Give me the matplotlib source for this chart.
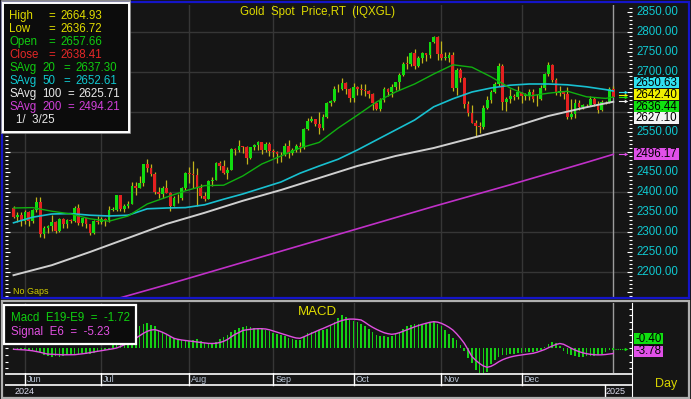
#!/usr/bin/env python3
"""Gold spot daily candles with moving averages and a MACD pane, dark terminal look."""

import matplotlib
matplotlib.use("Agg")
import matplotlib.pyplot as plt
import numpy as np
import pandas as pd
from matplotlib.patches import Rectangle
from matplotlib.ticker import MultipleLocator
from matplotlib.transforms import blended_transform_factory

plt.rcParams["font.family"] = ["Liberation Sans", "DejaVu Sans"]

W, H = 691, 399
BG = "#151515"
GRID = "#363636"
UP = "#10dc10"
DOWN = "#e42020"
WICK = "#c2b41c"
YELLOW = "#e0dc00"
CYAN = "#10c8d0"
MAGENTA = "#d040d8"

# ---------------------------------------------------------------- data
dates = pd.bdate_range("2024-05-29", "2025-01-03")

open_ = [
    2361, 2338, 2343,
    2327, 2350, 2327, 2355, 2375, 2294, 2311, 2316, 2325, 2303, 2333, 2319, 2329, 2328, 2360, 2322, 2334, 2319, 2298, 2327,
    2326, 2332, 2330, 2356, 2356, 2392, 2358, 2364, 2371, 2415, 2411, 2422, 2469, 2459, 2445, 2400, 2396, 2409, 2398, 2365, 2386, 2384, 2410,
    2447, 2446, 2443, 2410, 2390, 2383, 2427, 2431, 2472, 2465, 2447, 2456, 2507, 2504, 2514, 2512, 2484, 2512, 2518, 2524, 2504, 2521,
    2503, 2500, 2494, 2495, 2516, 2497, 2506, 2516, 2512, 2558, 2578, 2582, 2570, 2559, 2587, 2622, 2628, 2657, 2657, 2672, 2658,
    2634, 2662, 2657, 2656, 2653, 2644, 2622, 2608, 2630, 2657, 2649, 2663, 2674, 2693, 2721, 2720, 2748, 2716, 2736, 2747, 2743, 2774, 2788,
    2744, 2736, 2736, 2742, 2659, 2706, 2685, 2619, 2598, 2573, 2566, 2562, 2611, 2631, 2651, 2670, 2715, 2625, 2633, 2639, 2638,
    2650, 2640, 2643, 2650, 2632, 2633, 2660, 2694, 2718, 2681, 2648, 2652, 2646, 2587, 2595, 2622, 2612, 2618, 2617, 2633, 2621, 2606,
    2625, 2624, 2657.66,
]
high = [
    2364, 2351, 2349,
    2354, 2352, 2358, 2388, 2387, 2316, 2318, 2342, 2327, 2336, 2334, 2332, 2332, 2365, 2369, 2336, 2335, 2321, 2331, 2340,
    2338, 2335, 2365, 2363, 2392, 2393, 2370, 2378, 2424, 2424, 2440, 2469, 2483, 2469, 2449, 2412, 2415, 2431, 2401, 2390, 2395, 2413, 2451,
    2462, 2477, 2460, 2420, 2401, 2431, 2437, 2474, 2477, 2479, 2463, 2509, 2510, 2531, 2516, 2514, 2512, 2520, 2528, 2525, 2526, 2524,
    2507, 2503, 2500, 2523, 2530, 2511, 2519, 2526, 2560, 2586, 2590, 2583, 2600, 2596, 2625, 2630, 2664, 2670, 2685, 2674, 2660,
    2673, 2665, 2671, 2670, 2655, 2647, 2625, 2634, 2662, 2660, 2669, 2676, 2697, 2725, 2740, 2749, 2758, 2741, 2749, 2748, 2775, 2790, 2790,
    2778, 2750, 2750, 2749, 2711, 2709, 2688, 2627, 2618, 2581, 2575, 2618, 2639, 2656, 2674, 2722, 2721, 2637, 2657, 2646, 2666,
    2651, 2647, 2658, 2657, 2645, 2667, 2697, 2726, 2721, 2684, 2664, 2653, 2662, 2632, 2632, 2630, 2621, 2620, 2639, 2638, 2627, 2630,
    2627, 2663, 2664.93,
]
low = [
    2334, 2326, 2314,
    2319, 2316, 2322, 2349, 2287, 2286, 2298, 2302, 2297, 2301, 2309, 2310, 2322, 2326, 2317, 2316, 2309, 2293, 2296, 2319,
    2319, 2316, 2325, 2352, 2353, 2353, 2350, 2359, 2370, 2393, 2410, 2416, 2451, 2440, 2395, 2385, 2384, 2397, 2353, 2364, 2373, 2379, 2406,
    2423, 2410, 2364, 2385, 2378, 2382, 2414, 2430, 2456, 2444, 2432, 2454, 2492, 2499, 2497, 2470, 2482, 2504, 2506, 2494, 2499, 2491,
    2488, 2472, 2476, 2490, 2485, 2492, 2500, 2500, 2508, 2554, 2575, 2564, 2546, 2554, 2585, 2614, 2624, 2651, 2655, 2644, 2624,
    2624, 2642, 2643, 2640, 2634, 2604, 2605, 2603, 2625, 2641, 2637, 2656, 2654, 2691, 2708, 2715, 2708, 2713, 2722, 2727, 2735, 2772, 2731,
    2730, 2729, 2725, 2652, 2643, 2675, 2610, 2590, 2572, 2537, 2547, 2558, 2607, 2623, 2648, 2665, 2605, 2603, 2622, 2630, 2632,
    2622, 2629, 2631, 2626, 2614, 2631, 2654, 2691, 2676, 2643, 2641, 2632, 2583, 2583, 2584, 2605, 2607, 2613, 2614, 2616, 2597, 2603,
    2620, 2623, 2636.72,
]
close = [
    2338, 2343, 2327,
    2350, 2327, 2355, 2375, 2294, 2311, 2316, 2325, 2303, 2333, 2319, 2329, 2328, 2360, 2322, 2334, 2319, 2298, 2327, 2326,
    2332, 2330, 2356, 2356, 2392, 2358, 2364, 2371, 2415, 2411, 2422, 2469, 2459, 2445, 2400, 2396, 2409, 2398, 2365, 2386, 2384, 2410, 2447,
    2446, 2443, 2410, 2390, 2383, 2427, 2431, 2472, 2465, 2447, 2456, 2507, 2504, 2514, 2512, 2484, 2512, 2518, 2524, 2504, 2521, 2503,
    2500, 2494, 2495, 2516, 2497, 2506, 2516, 2512, 2558, 2578, 2582, 2570, 2559, 2587, 2622, 2628, 2657, 2657, 2672, 2658, 2634,
    2662, 2657, 2656, 2653, 2644, 2622, 2608, 2630, 2657, 2649, 2663, 2674, 2693, 2721, 2720, 2748, 2716, 2736, 2747, 2743, 2774, 2788, 2744,
    2736, 2736, 2742, 2659, 2706, 2685, 2619, 2598, 2573, 2566, 2562, 2611, 2631, 2651, 2670, 2715, 2625, 2633, 2639, 2638, 2650,
    2640, 2643, 2650, 2632, 2633, 2660, 2694, 2718, 2681, 2648, 2652, 2646, 2587, 2595, 2622, 2612, 2618, 2617, 2633, 2621, 2606, 2625,
    2624, 2658, 2638.41,
]

# moving averages at a few bars
sma20_at = [0, 5, 10, 15, 20, 25, 30, 35, 40, 45, 50, 55, 60, 65, 70, 75, 80, 85, 90,
            95, 100, 105, 110, 115, 120, 125, 130, 135, 140, 145, 150, 155, 157]
sma20 = [2360, 2361, 2352, 2345, 2333, 2327, 2340, 2370, 2387, 2403, 2416, 2417, 2440, 2470, 2490, 2510, 2524,
         2560, 2592, 2625, 2650, 2670, 2695, 2718, 2712, 2688, 2660, 2640, 2647, 2652, 2638, 2634, 2637.3]
sma50_at = sma20_at
sma50 = [2323, 2337, 2345, 2346, 2342, 2340, 2342, 2358, 2360, 2361, 2368, 2382, 2395, 2410, 2425, 2447, 2465,
         2482, 2505, 2530, 2555, 2580, 2613, 2633, 2650, 2660, 2667, 2670, 2670, 2668, 2663, 2656, 2652.6]
slow_at = [0, 10, 20, 30, 40, 50, 60, 70, 80, 90, 100, 110, 120, 130, 140, 150, 157]
sma100 = [2192, 2217, 2250, 2285, 2320, 2348, 2378, 2405, 2435, 2465, 2490, 2510, 2535, 2560, 2590, 2612, 2625.7]
sma200 = [2058, 2086, 2114, 2141, 2168, 2196, 2224, 2252, 2280, 2308, 2336, 2364, 2391, 2418, 2446, 2474, 2494.2]

macd = [
    -1, -1, -2, -1, -2, -3, -4, -4, -7, -8, -8.5, -8, -8.5, -8, -7, -7, -6, -6, -5, -6, -6,
    -5, -4, -3, -2, -1,
    3, 6, 8, 11, 13, 16, 19, 22, 24, 25,
    23, 22, 18, 15, 13, 11, 10, 9, 8, 8,
    7, 8, 9, 7, 5, 4, 4, 6, 9, 11,
    13, 16, 18, 20, 21, 22, 21, 20, 20, 19,
    18, 17, 15, 14, 13, 12, 10, 9, 8, 8,
    11, 15, 16, 17, 18, 18, 19, 22, 26, 30,
    33, 31, 28, 27, 26, 24, 22, 19, 16, 13,
    12, 12, 11, 12, 14, 16, 19, 22, 23, 24,
    24, 23, 24, 25, 26, 24, 22, 18, 14, 10,
    8, 3, -3, -10, -15, -22, -27, -28, -24, -16,
    -12, -9, -7, -7, -6, -6, -5, -5, -4, -4,
    -4, -3, -2, 1, 4, 6, 5, 2, -3, -6,
    -7, -8, -9, -9, -8, -8, -8, -7, -6, -4,
    -2, -1.7,
]
signal = [
    -1.0, -1.2, -1.4, -1.6, -2.0, -2.5, -3.2, -4.0, -5.0, -5.8,
    -6.0, -6.2, -6.4, -6.5, -6.5, -6.5, -6.4, -6.0, -5.5, -5.0,
    -4.3, -3.7, -3.0, -2.4, -1.8, -1.2, -0.5, 0.3, 1.8, 3.5,
    5.2, 7.5, 10.0, 12.5, 15.0, 17.0, 18.3, 18.7, 17.5, 16.0,
    14.2, 12.0, 10.0, 9.0, 8.3, 7.8, 7.2, 6.8, 6.3, 5.8,
    5.2, 4.9, 4.8, 5.0, 5.8, 7.0, 8.8, 11.5, 14.0, 15.8,
    17.8, 18.5, 19.0, 19.4, 19.6, 19.6, 19.3, 18.5, 17.3, 16.1,
    14.8, 13.6, 12.4, 11.3, 10.3, 10.0, 11.5, 13.2, 15.0, 16.7,
    18.3, 19.8, 21.5, 23.3, 25.0, 26.5, 27.8, 28.8, 29.2, 29.2,
    28.9, 28.3, 26.0, 23.3, 21.0, 19.0, 17.2, 15.6, 14.6, 14.0,
    14.5, 15.6, 17.0, 18.5, 20.0, 21.5, 22.8, 24.0, 25.0, 26.0,
    26.6, 26.2, 25.0, 23.2, 21.0, 18.3, 14.5, 10.0, 5.0, -1.5,
    -8.3, -12.0, -15.2, -17.7, -19.0, -18.0, -16.0, -13.5, -11.5, -10.0,
    -8.8, -7.9, -7.2, -6.7, -6.1, -5.5, -5.0, -4.0, -2.7, -1.3,
    0.5, 2.3, 3.8, 4.8, 4.0, 2.0, 0.0, -1.8, -3.3, -4.5,
    -5.4, -6.0, -6.4, -6.6, -6.5, -6.2, -5.7, -5.2,
]

legend_rows = [("High", "2664.93", YELLOW), ("Low", "2636.72", YELLOW),
               ("Open", "2657.66", "#10cc10"), ("Close", "2638.41", "#e42828")]
avg_rows = [("20", "2637.30", "#10cc10"), ("50", "2652.61", CYAN),
            ("100", "2625.71", "#e8e8e8"), ("200", "2494.21", MAGENTA)]
last_boxes = [("2650.63", "#30e0f0"), ("2642.40", "#f0f000"), ("2636.44", "#10e010"),
              ("2627.10", "#f4f4f4"), ("2496.17", "#e050e8")]
last_prices = [2650.63, 2642.40, 2636.44, 2627.10, 2496.17]
macd_boxes = [("-0.40", "#10e010"), ("-3.78", "#e050e8")]

n = len(dates)
idx = np.arange(n)
o, hi, lo, c = (np.asarray(a, float) for a in (open_, high, low, close))


def fx(x):
    return x / W


def fy(y):
    return 1 - y / H


fig = plt.figure(figsize=(W / 100, H / 100), dpi=100, facecolor=BG)


def fig_rect(x0, y0, x1, y1, **kw):
    fig.patches.append(Rectangle((fx(x0), fy(y1)), (x1 - x0) / W, (y1 - y0) / H,
                                 transform=fig.transFigure, figure=fig, **kw))


def fig_text(x, y, s, **kw):
    kw.setdefault("va", "center")
    fig.text(fx(x), fy(y), s, **kw)


X0, X1 = 5, 632
ax = fig.add_axes([fx(X0), fy(297), (X1 - X0) / W, 292 / H])
axm = fig.add_axes([fx(X0), fy(373), (X1 - X0) / W, 70 / H])
axd = fig.add_axes([fx(X0), fy(397), (X1 - X0) / W, 24 / H])

xlim = (-2.23, 161.9)
month_first = [i for i in range(1, n) if dates[i].month != dates[i - 1].month]
grid_months = [i for i in month_first if dates[i].year == 2024]

for a in (ax, axm, axd):
    a.set_facecolor(BG)
    a.set_xlim(*xlim)
    for s in a.spines.values():
        s.set_visible(False)
    a.set_xticks([])
axd.set_yticks([])

# ---------------------------------------------------------------- price pane
ax.set_ylim(2137.5, 2867.5)
for p in range(2200, 2801, 100):
    ax.axhline(p, color=GRID, lw=1, zorder=0)
for i in grid_months:
    ax.axvline(i, color=GRID, lw=1, zorder=0)
ax.axvline(n - 1, color="#9c9c9c", lw=1, zorder=1)

ax.vlines(idx, lo, hi, color=WICK, lw=0.9, zorder=2)
body = np.abs(c - o)
ax.bar(idx, np.maximum(body, 1.5), bottom=np.minimum(o, c), width=0.72,
       color=[UP if cc >= oo else DOWN for oo, cc in zip(o, c)], lw=0, zorder=3)

ax.plot(slow_at, sma200, color="#c030c8", lw=1.2, zorder=4)
ax.plot(slow_at, sma100, color="#cfcfcf", lw=1.4, zorder=4)
ax.plot(sma50_at, sma50, color="#18c0d0", lw=1.2, zorder=4)
ax.plot(sma20_at, sma20, color="#10b010", lw=1.0, zorder=4)

ax.yaxis.set_major_locator(MultipleLocator(50))
ax.yaxis.set_minor_locator(MultipleLocator(10))
ax.tick_params(axis="y", which="both", direction="in", left=True, right=True,
               labelleft=False, labelright=False, color="white", width=0.8)
ax.tick_params(axis="y", which="major", length=3.5)
ax.tick_params(axis="y", which="minor", length=2)

ytr = blended_transform_factory(ax.transAxes, ax.transData)
for p in range(2200, 2851, 50):
    if p in (2650, 2600, 2500):
        continue
    ax.text(1.0065, p, f"{p:.2f}", transform=ytr, color=CYAN, fontsize=8.3,
            va="center", ha="left", clip_on=False)

# little level pointers right of the last bar
for (_, col), p in zip(last_boxes, last_prices):
    ax.plot([158.6, 160.4], [p, p], color=col, lw=0.8, clip_on=False, zorder=5)
    ax.plot([160.4], [p], marker=">", ms=2.5, color=col, mew=0, clip_on=False, zorder=5)

# ---------------------------------------------------------------- macd pane
axm.set_ylim(-24.7, 45.3)
for i in grid_months:
    axm.axvline(i, color=GRID, lw=1, zorder=0)
axm.axvline(n - 1, color="#9c9c9c", lw=1, zorder=1)
axm.bar(idx, macd, width=0.42, color="#14d014", lw=0, zorder=2)
axm.plot(idx, signal, color="#e050e0", lw=1.0, zorder=3)
axm.plot([157.5, 160.4], [-0.4, -0.4], color="#10e010", lw=0.8, ls=(0, (1, 1)), clip_on=False)
axm.plot([160.4], [-0.4], marker=">", ms=2.5, color="#10e010", mew=0, clip_on=False)
axm.yaxis.set_major_locator(MultipleLocator(6.6))
axm.tick_params(axis="y", direction="in", left=True, right=True, labelleft=False,
                labelright=False, color="white", length=2.5, width=0.8)
axm.spines["right"].set_visible(True)
axm.spines["right"].set_color("white")

# ---------------------------------------------------------------- date strip
axd.set_ylim(24, 0)
axd.axhline(0.5, color="white", lw=1.2)
axd.axhline(12, color="white", lw=1.2)
for i in grid_months:
    axd.plot([i, i], [0, 12], color="white", lw=1)
    axd.text(i + 0.5, 7, dates[i].strftime("%b"), color="#b8c4d4", fontsize=6.5,
             va="center", ha="left")
jan = [i for i in month_first if dates[i].year == 2025][0]
axd.plot([jan - 0.2, jan - 0.2], [12, 24], color="white", lw=1)
axd.text(jan + 0.1, 18.5, "2025", color="#dde", fontsize=6.5, va="center", ha="left")
axd.text(0.4, 18.5, "2024", color="#dde", fontsize=6.5, va="center", ha="left")
axd.spines["right"].set_visible(True)
axd.spines["right"].set_color("white")

# ---------------------------------------------------------------- frames
fig_rect(1.5, 1.5, 688.5, 297.5, fill=False, ec="#1414c8", lw=1.6)
fig_rect(1.5, 300.5, 689, 398, fill=False, ec="#b0b0b0", lw=1.6)

# main legend box
fig_rect(1.5, 1.5, 130, 133, fill=False, ec="#a0a0a0", lw=1.2)
fig_rect(3, 3, 128.5, 131.5, fc="#0c0c0c", ec="white", lw=1.4)
for k, (name, val, col) in enumerate(legend_rows):
    y = 16 + 13 * k
    fig_text(9, y, name, color=col, fontsize=8.3)
    fig_text(48, y, "=", color=col, fontsize=8.3)
    fig_text(60, y, val, color=col, fontsize=8.3)
for k, (per, val, col) in enumerate(avg_rows):
    y = 68 + 13 * k
    fig_text(9, y, "SAvg", color=col, fontsize=8.3)
    fig_text(42, y, per, color=col, fontsize=8.3)
    if len(per) == 2:
        fig_text(63, y, "=", color=col, fontsize=8.3)
        fig_text(75, y, val, color=col, fontsize=8.3)
    else:
        fig_text(67, y, "=", color=col, fontsize=8.3)
        fig_text(78, y, val, color=col, fontsize=8.3)
fig_text(16, 120, "1/  3/25", color="#e8e8e8", fontsize=8.3)

fig_text(318, 11.5, "Gold  Spot  Price,RT  (IQXGL)", color=YELLOW, fontsize=8.3, ha="center")
fig_text(13, 291, "No Gaps", color="#d0cc00", fontsize=6.5)

# macd legend box
fig_rect(4, 304.5, 136, 343.5, fc="#0c0c0c", ec="white", lw=1.6)
fig_text(11, 318, "Macd  E19-E9  =  -1.72", color="#10d010", fontsize=8.3)
fig_text(11, 332, "Signal  E6  =  -5.23", color="#e050e0", fontsize=8.3)
fig_text(317, 312, "MACD", color=YELLOW, fontsize=9.5, ha="center")

# last-value boxes on the price scale
for (txt, col), yc in zip(last_boxes, [82.5, 94.5, 107, 118, 154]):
    fig_rect(634, yc - 5.5, 679, yc + 5.5, fc=col, ec="none")
    fig_text(635.5, yc, txt, color="black", fontsize=8.3)
for (txt, col), yc in zip(macd_boxes, [338.7, 351.5]):
    fig_rect(634, yc - 5.5, 663, yc + 5.5, fc=col, ec="none")
    fig_text(635.5, yc, txt, color="black", fontsize=8.3)

fig_text(666, 384, "Day", color="#d8d400", fontsize=9, ha="center")

fig.savefig("out.png", dpi=100, facecolor=BG)
